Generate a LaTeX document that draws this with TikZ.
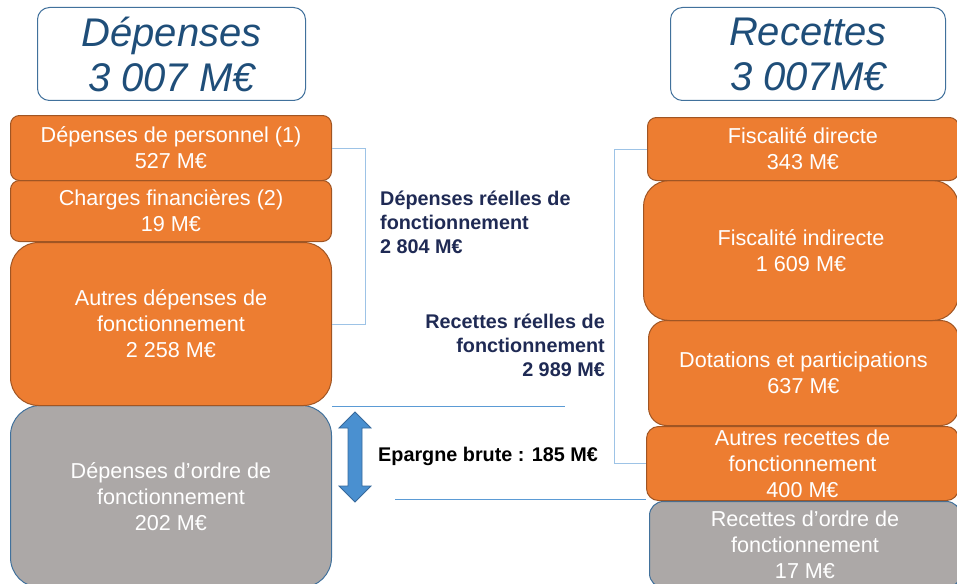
\documentclass[tikz,border=0pt]{standalone}
\usepackage{fontspec}
\setmainfont{Liberation Sans}
\definecolor{orfill}{RGB}{237,125,49}
\definecolor{ordraw}{RGB}{160,85,35}
\definecolor{grfill}{RGB}{172,168,167}
\definecolor{grdraw}{RGB}{65,113,156}
\definecolor{titlec}{RGB}{31,78,121}
\definecolor{navy}{RGB}{31,42,84}
\definecolor{brack}{RGB}{157,195,230}
\definecolor{hline}{RGB}{91,155,213}
\definecolor{arrfill}{RGB}{74,144,208}
\definecolor{arrdraw}{RGB}{55,105,155}
\tikzset{
  base/.style={anchor=north west, align=center, inner sep=0pt, text=white,
    font=\fontsize{21.6}{26}\selectfont, line width=1pt},
  obox/.style={base, fill=orfill, draw=ordraw},
  gbox/.style={base, fill=grfill, draw=grdraw},
  tbox/.style={anchor=north west, align=center, inner sep=0pt, draw=grdraw, fill=white,
    line width=1pt, rounded corners=12pt, text=titlec,
    font=\fontsize{40}{45}\selectfont\itshape},
  lbl/.style={inner sep=0pt, text=navy, font=\fontsize{19.8}{24}\selectfont\bfseries},
  bk/.style={draw=brack, line width=1pt},
  hl/.style={draw=hline, line width=0.8pt}
}
\begin{document}
\begin{tikzpicture}[x=1pt,y=-1pt]
\useasboundingbox (0,0) rectangle (957,583);
% titles
\node[tbox, minimum width=268, minimum height=93] (tl) at (37,7) {Dépenses\\3 007 M€};
\node[tbox, minimum width=275, minimum height=93] (tr) at (670,7) {Recettes\\3 007M€};
% left column
\node[gbox, rounded corners=30pt, minimum width=321, minimum height=182] (d4) at (10,405) {Dépenses d’ordre de\\fonctionnement\\202 M€};
\node[obox, rounded corners=28pt, minimum width=321, minimum height=163] (d3) at (10,242) {Autres dépenses de\\fonctionnement\\2 258 M€};
\node[obox, rounded corners=9pt, minimum width=321, minimum height=61] (d2) at (10,180) {Charges financières (2)\\19 M€};
\node[obox, rounded corners=9pt, minimum width=321, minimum height=65] (d1) at (10,115) {Dépenses de personnel (1)\\527 M€};
% right column
\node[gbox, rounded corners=14pt, minimum width=311, minimum height=86] (r5) at (649,501) {Recettes d’ordre de\\fonctionnement\\17 M€};
\node[obox, rounded corners=12pt, minimum width=312, minimum height=74] (r4) at (646,426) {Autres recettes de\\fonctionnement\\400 M€};
\node[obox, rounded corners=18pt, minimum width=310, minimum height=105] (r3) at (648,320) {Dotations et participations\\637 M€};
\node[obox, rounded corners=26pt, minimum width=315, minimum height=140] (r2) at (643,180) {Fiscalité indirecte\\1 609 M€};
\node[obox, rounded corners=9pt, minimum width=311, minimum height=63] (r1) at (647,117) {Fiscalité directe\\343 M€};
% brackets
\draw[bk] (d1.east) -- ++(33,0) |- (d3.east);
\draw[bk] (r1.west) -- ++(-33,0) |- (r4.west);
% horizontal lines
\coordinate (h1) at (565,406);
\coordinate (h2s) at (395,499);
\coordinate (h2e) at (646,499);
\draw[hl] (d3.south east) -- (h1);
\draw[hl] (h2s) -- (h2e);
% labels
\node[lbl, anchor=west, align=left] (ldep) at (380,222) {Dépenses réelles de\\fonctionnement\\2 804 M€};
\node[lbl, anchor=east, align=right] (lrec) at (605,345) {Recettes réelles de\\fonctionnement\\2 989 M€};
\node[lbl, anchor=west, text=black] (lep) at (378,456) {Epargne brute : 185 M€};
% double arrow
\coordinate (atop) at (355,412);
\coordinate (abot) at (355,502);
\fill[arrfill, draw=arrdraw, line width=0.8pt]
  (atop) -- (371,428) -- (362,428) -- (362,486) -- (371,486) -- (abot)
  -- (339,486) -- (348,486) -- (348,428) -- (339,428) -- cycle;
\end{tikzpicture}
\end{document}
